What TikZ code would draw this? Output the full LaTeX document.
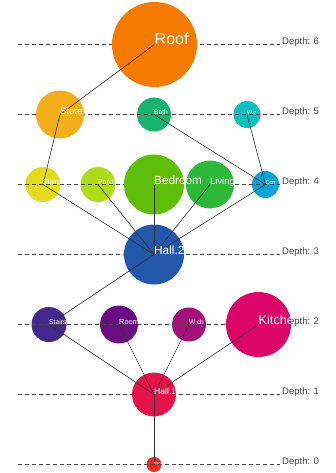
\documentclass[tikz,border=0pt]{standalone}
\usepackage{fontspec}
\setmainfont{Liberation Sans}
\definecolor{cRoof}{HTML}{F77A00}
\definecolor{cStore}{HTML}{F3AE1A}
\definecolor{cBath}{HTML}{16B46C}
\definecolor{cWc}{HTML}{12BFBF}
\definecolor{cStairsA}{HTML}{E3DC1C}
\definecolor{cPorch}{HTML}{AEDB1A}
\definecolor{cBed}{HTML}{5EBE0A}
\definecolor{cLiving}{HTML}{2DB839}
\definecolor{cCorr}{HTML}{0AA3D8}
\definecolor{cHallB}{HTML}{2257AA}
\definecolor{cStairsB}{HTML}{43298C}
\definecolor{cRoom}{HTML}{690D80}
\definecolor{cWcb}{HTML}{A6107A}
\definecolor{cKitchen}{HTML}{DB0468}
\definecolor{cHallA}{HTML}{E8124A}
\definecolor{cEntry}{HTML}{EE2B22}
\definecolor{cDash}{HTML}{454545}
\definecolor{cConn}{HTML}{333333}
\newcommand\hcirc[5]{\node[circle,fill=#5,draw=none,inner sep=0pt,minimum size={(2*#4)*1pt}] (#1) at (#2,#3) {};}
\newcommand\hlabel[5]{\begin{scope}\clip (#1.center) circle (#2pt);
  \node[nodelabel,font=\fontsize{#3}{#3}\selectfont] (#4) at (#1.center) {#5};\end{scope}}
\newcommand\hdepth[3]{\coordinate (#1a) at (18,#2); \coordinate (#1b) at (280,#2);
  \draw[depthline] (#1a) -- (#1b);
  \node[anchor=base west,inner sep=0pt,text=cDash,font=\fontsize{9.5}{9.5}\selectfont] (#1t) at ([xshift=2pt]#1b) {Depth: #3};}
\begin{document}
\begin{tikzpicture}[x=1pt,y=-1pt,
  depthline/.style={draw=cDash,line width=0.9pt,dash pattern=on 4pt off 3pt},
  conn/.style={draw=cConn,line width=0.6pt},
  nodelabel/.style={anchor=base west,inner sep=0pt,text=white}]
\useasboundingbox (0,0) rectangle (335,473);
% small circles (under the depth lines)
\hcirc{bath}{154}{114.5}{17}{cBath}
\hcirc{wc}{247}{114.5}{13.5}{cWc}
\hcirc{stairsA}{43}{184.5}{17.5}{cStairsA}
\hcirc{porch}{98}{184.5}{17.5}{cPorch}
\hcirc{corr}{265.5}{184.5}{13.5}{cCorr}
\hcirc{stairsB}{49}{324.5}{17.5}{cStairsB}
\hcirc{room}{119}{324.5}{19}{cRoom}
\hcirc{wcb}{189}{324.5}{17}{cWcb}
\hcirc{entry}{154}{464.5}{7.5}{cEntry}
% depth lines
\hdepth{dsix}{44.5}{6}
\hdepth{dfive}{114.5}{5}
\hdepth{dfour}{184.5}{4}
\hdepth{dthree}{254.5}{3}
\hdepth{dtwo}{324.5}{2}
\hdepth{done}{394.5}{1}
\hdepth{dzero}{464.5}{0}
% large circles
\hcirc{roof}{154.5}{44.5}{42.5}{cRoof}
\hcirc{store}{60}{114.5}{24}{cStore}
\hcirc{bed}{154}{184.5}{30}{cBed}
\hcirc{living}{210}{184.5}{24}{cLiving}
\hcirc{hallB}{154}{254.5}{30}{cHallB}
\hcirc{kitchen}{258.5}{324.5}{32.5}{cKitchen}
\hcirc{hallA}{154}{394.5}{22}{cHallA}
% connectors
\draw[conn] (roof.center) -- (store.center);
\draw[conn] (store.center) -- (stairsA.center);
\draw[conn] (bath.center) -- (corr.center);
\draw[conn] (wc.center) -- (corr.center);
\draw[conn] (stairsA.center) -- (hallB.center);
\draw[conn] (porch.center) -- (hallB.center);
\draw[conn] (bed.center) -- (hallB.center);
\draw[conn] (living.center) -- (hallB.center);
\draw[conn] (corr.center) -- (hallB.center);
\draw[conn] (hallB.center) -- (stairsB.center);
\draw[conn] (stairsB.center) -- (hallA.center);
\draw[conn] (room.center) -- (hallA.center);
\draw[conn] (wcb.center) -- (hallA.center);
\draw[conn] (kitchen.center) -- (hallA.center);
\draw[conn] (hallA.center) -- (entry.center);
% labels
\hlabel{roof}{42.5}{16}{lroof}{Roof}
\hlabel{store}{24}{9.4}{lstore}{Store}
\hlabel{bath}{17}{6.6}{lbath}{Bath}
\hlabel{wc}{13.5}{5.3}{lwc}{W.c}
\hlabel{stairsA}{17.5}{6.8}{lstairsA}{Stairs}
\hlabel{porch}{17.5}{6.8}{lporch}{Porch}
\node[nodelabel,font=\fontsize{11.8}{11.8}\selectfont] (lbed) at (bed.center) {Bedroom};
\hlabel{living}{24}{9.4}{lliving}{Living}
\hlabel{corr}{13.5}{5.3}{lcorr}{Corr}
\hlabel{hallB}{30}{11.8}{lhallB}{Hall.2}
\hlabel{stairsB}{17.5}{6.8}{lstairsB}{Stairs}
\hlabel{room}{19}{7.4}{lroom}{Room}
\hlabel{wcb}{17}{6.6}{lwcb}{W.cb}
\hlabel{kitchen}{32.5}{12.7}{lkitchen}{Kitchen}
\hlabel{hallA}{22}{8.6}{lhallA}{Hall.1}
\hlabel{entry}{7.5}{2.9}{lentry}{Entry}
\end{tikzpicture}
\end{document}
